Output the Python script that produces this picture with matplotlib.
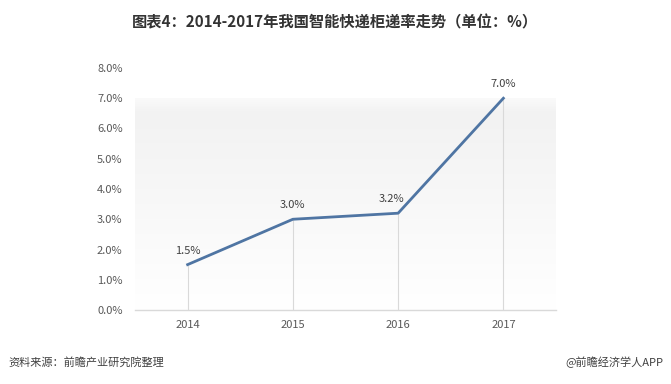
import numpy as np
import matplotlib
matplotlib.use("Agg")
import matplotlib.pyplot as plt

plt.rcParams['font.family'] = ['Noto Sans CJK SC', 'DejaVu Sans']

years = ["2014", "2015", "2016", "2017"]
rates = [1.5, 3.0, 3.2, 7.0]
labels = ["1.5%", "3.0%", "3.2%", "7.0%"]
yticks = [0, 1, 2, 3, 4, 5, 6, 7, 8]
title = "图表4：2014-2017年我国智能快递柜递率走势（单位：%）"
source = "资料来源：前瞻产业研究院整理"
credit = "@前瞻经济学人APP"

fig = plt.figure(figsize=(6.71, 3.84), dpi=100)
ax = fig.add_axes([135 / 671, 74 / 384, 421 / 671, 242 / 384])
x = np.arange(len(years))

# faint gray gradient behind the plot, soft at the top edge
t = np.linspace(0, 1, 256)
g = np.where(t < 0.93, t / 0.93, (1 - t) / 0.07 * 0.6 + 0.4)
ax.imshow(g.reshape(-1, 1), extent=[-0.5, 3.5, 0, 7.0], aspect='auto',
          origin='lower', vmin=0, vmax=1,
          cmap=matplotlib.colors.LinearSegmentedColormap.from_list(
              'g', ['#ffffff', '#f2f2f2']), zorder=0)

ax.vlines(x, 0, rates, colors='#d9d9d9', linewidth=0.8, zorder=1)
ax.plot(x, rates, color='#4f75a3', linewidth=2, zorder=3)
offs = [0, 0, -0.06, 0]
for i, (v, s) in enumerate(zip(rates, labels)):
    ax.text(x[i] + offs[i], v + 0.3, s, ha='center', va='bottom',
            fontsize=8, color='#404040')

ax.set_xlim(-0.5, 3.5)
ax.set_ylim(0, 8)
ax.set_xticks(x)
ax.set_xticklabels(years)
ax.set_yticks(yticks)
ax.set_yticklabels(["%.1f%%" % v for v in yticks])
ax.tick_params(length=0, labelsize=8, colors='#595959', pad=9)
ax.tick_params(axis='x', pad=7)
for s in ['top', 'right', 'left']:
    ax.spines[s].set_visible(False)
ax.spines['bottom'].set_color('#d9d9d9')
ax.spines['bottom'].set_linewidth(1)

fig.text(335 / 671, 1 - 22 / 384, title, ha='center', va='center',
         fontsize=11, fontweight='bold', color='#333333')
fig.text(8 / 671, 1 - 362 / 384, source, ha='left', va='center',
         fontsize=8, color='#404040', style='italic')
fig.text(663 / 671, 1 - 362 / 384, credit, ha='right', va='center',
         fontsize=8, color='#404040')

fig.savefig("out.png", dpi=100)
